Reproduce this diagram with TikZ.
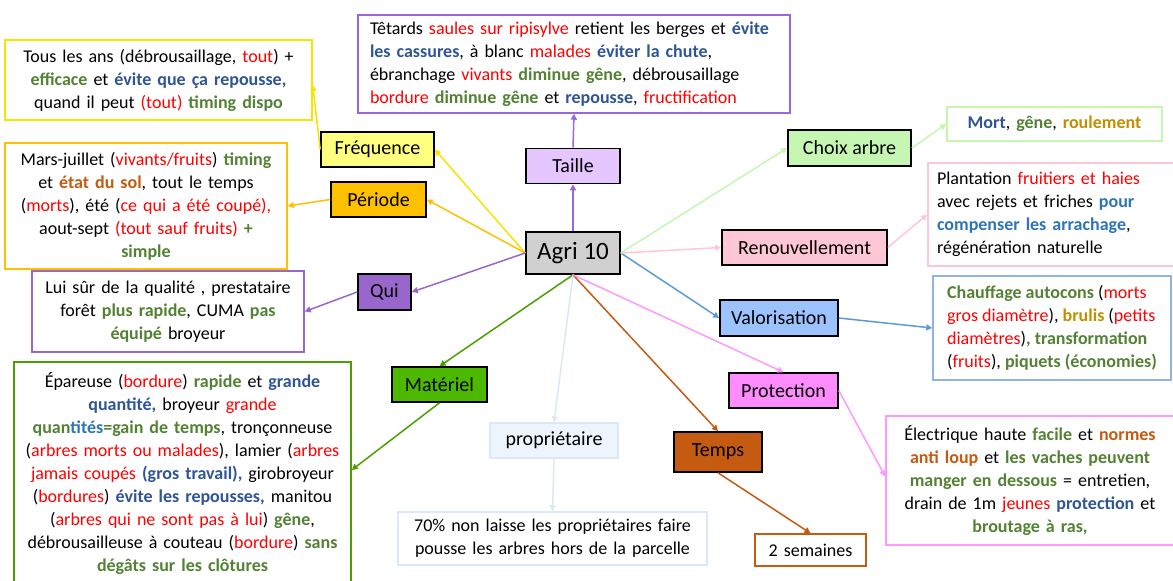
\documentclass[tikz,border=0pt]{standalone}
\usepackage{fontspec}
\setmainfont{Carlito}
\usetikzlibrary{arrows.meta}

% text colours
\definecolor{tred}{HTML}{FF0000}
\definecolor{tgreen}{HTML}{548235}
\definecolor{tblue}{HTML}{2F5597}
\definecolor{tblueb}{HTML}{2E75B6}
\definecolor{torange}{HTML}{C55A11}
\definecolor{tgold}{HTML}{BF9000}
% box and line colours
\definecolor{cagri}{HTML}{D0D0D0}
\definecolor{cfreq}{HTML}{FFFF80}
\definecolor{lfreq}{HTML}{F5E400}
\definecolor{cper}{HTML}{FFC000}
\definecolor{ctaille}{HTML}{E5C6FF}
\definecolor{ltaille}{HTML}{9966DD}
\definecolor{cqui}{HTML}{9966CC}
\definecolor{cmat}{HTML}{4CB800}
\definecolor{lmat}{HTML}{4C9F00}
\definecolor{cprop}{HTML}{EEF4FB}
\definecolor{lprop}{HTML}{DAE8F8}
\definecolor{ctemps}{HTML}{C55A11}
\definecolor{cprot}{HTML}{FF8CFF}
\definecolor{lprot}{HTML}{FF99FF}
\definecolor{cvalo}{HTML}{9DC3FF}
\definecolor{lvalo}{HTML}{5B9BD5}
\definecolor{dvalo}{HTML}{8EB4E3}
\definecolor{crenouv}{HTML}{FFC7D6}
\definecolor{cchoix}{HTML}{C6F7B2}

\newcommand{\txtR}[1]{\textcolor{tred}{#1}}
\newcommand{\txtG}[1]{\textbf{\textcolor{tgreen}{#1}}}
\newcommand{\txtB}[1]{\textbf{\textcolor{tblue}{#1}}}
\newcommand{\txtL}[1]{\textbf{\textcolor{tblueb}{#1}}}
\newcommand{\txtO}[1]{\textbf{\textcolor{torange}{#1}}}
\newcommand{\txtY}[1]{\textbf{\textcolor{tgold}{#1}}}

\tikzset{
  theme/.style={draw=black, line width=1.6pt, inner sep=0pt, font=\fontsize{20}{24}\selectfont},
  detail/.style={draw, fill=white, line width=1.5pt, inner ysep=0pt, inner xsep=3pt, align=center, font=\fontsize{18}{23}\selectfont},
  arr/.style={line width=1.5pt, -{Triangle[length=6pt,width=6pt]}}
}

\begin{document}
\begin{tikzpicture}[x=1pt, y=-1pt]
\clip (0,0) rectangle (1173,581);

% Centre
\node[theme, fill=cagri, minimum width=94pt, minimum height=42pt, font=\fontsize{25}{30}\selectfont] (agri) at (573,253) {Agri 10};

% Themes
\node[theme, fill=ctaille, minimum width=94pt, minimum height=35pt] (taille) at (573,166) {Taille};
\node[theme, fill=cfreq, minimum width=113pt, minimum height=35pt] (freq) at (377.5,149.5) {Fréquence};
\node[theme, fill=cper, minimum width=95pt, minimum height=35pt] (periode) at (378.5,199.5) {Période};
\node[theme, fill=cqui, minimum width=53pt, minimum height=36pt] (qui) at (384.5,292) {Qui};
\node[theme, fill=cmat, minimum width=95pt, minimum height=35pt] (materiel) at (439.5,384.5) {Matériel};
\node[theme, draw=lprop, line width=1.5pt, fill=cprop, minimum width=128pt, minimum height=35pt] (proprio) at (554,440.5) {propriétaire};
\node[theme, fill=ctemps, minimum width=88pt, minimum height=40pt] (temps) at (718,452) {Temps};
\node[theme, fill=cprot, minimum width=109pt, minimum height=35pt] (protection) at (783.5,390.5) {Protection};
\node[theme, fill=cvalo, minimum width=118pt, minimum height=36pt] (valo) at (779,318) {Valorisation};
\node[theme, fill=crenouv, minimum width=165pt, minimum height=35pt] (renouv) at (804.5,247.5) {Renouvellement};
\node[theme, fill=cchoix, minimum width=123pt, minimum height=36pt] (choix) at (849.5,148) {Choix arbre};

% Details
\node[detail, draw=ltaille, align=left, inner xsep=12pt, text width=408pt, minimum height=98pt] (dtaille) at (574,64)
  {Têtards \txtR{saules sur ripisylve} retient les berges et \txtB{évite}\\
   \txtB{les cassures}, à blanc \txtR{malades} \txtB{éviter la chute},\\
   ébranchage \txtR{vivants} \txtG{diminue gêne}, débrousaillage\\
   \txtR{bordure} \txtG{diminue gêne} et \txtB{repousse}, \txtR{fructification}};
\node[detail, draw=lfreq, text width=301pt, minimum height=80pt] (dfreq) at (158.5,80)
  {Tous les ans (débrousaillage, \txtR{tout}) +\\
   \txtG{efficace} et \txtB{évite que ça repousse,}\\
   quand il peut \txtR{(tout)} \txtG{timing dispo}};
\node[detail, draw=cper, text width=276pt, minimum height=126pt] (dperiode) at (146,206)
  {Mars-juillet (\txtR{vivants/fruits}) \txtG{timing}\\
   et \txtO{état du sol}, tout le temps\\
   (\txtR{morts}), été (\txtR{ce qui a été coupé),}\\
   aout-sept \txtR{(tout sauf fruits)} \txtG{+}\\
   \txtG{simple}};
\node[detail, draw=cqui, text width=266pt, minimum height=81pt] (dqui) at (168,311.5)
  {Lui sûr de la qualité , prestataire\\
   forêt \txtG{plus rapide}, CUMA \txtG{pas}\\
   \txtG{équipé} broyeur};
\node[detail, draw=lmat, text width=331pt, minimum height=224pt] (dmat) at (182.5,474)
  {Épareuse (\txtR{bordure}) \txtG{rapide} et \txtB{grande}\\
   \txtB{quantité,} broyeur \txtR{grande}\\
   \txtG{quan}\txtL{tités}\txtG{=gain de temps}, tronçonneuse\\
   (\txtR{arbres morts ou malades}), lamier (\txtR{arbres}\\
   \txtR{jamais coupés} \txtB{(gros travail),} girobroyeur\\
   (\txtR{bordures}) \txtB{évite les repousses,} manitou\\
   (\txtR{arbres qui ne sont pas à lui}) \txtG{gêne},\\
   débrousailleuse à couteau (\txtR{bordure}) \txtG{sans}\\
   \txtG{dégâts sur les clôtures}};
\node[detail, draw=lprop, text width=303pt, minimum height=53pt] (dproprio) at (552.5,538.5)
  {70\% non laisse les propriétaires faire\\
   pousse les arbres hors de la parcelle};
\node[detail, draw=ctemps, text width=105pt, minimum height=32pt] (dtemps) at (810.5,550) {2 semaines};
\node[detail, draw=cchoix, text width=209pt, minimum height=34pt] (dchoix) at (1054.5,124)
  {\txtB{Mort}, \txtG{gêne}, \txtY{roulement}};
\node[detail, draw=crenouv, align=left, inner xsep=9pt, text width=230pt, minimum height=103pt] (drenouv) at (1052,214.5)
  {Plantation \txtR{fruitiers et haies}\\
   avec rejets et friches \txtL{pour}\\
   \txtL{compenser les arrachage},\\
   régénération naturelle};
\node[detail, draw=dvalo, align=left, minimum width=238pt, minimum height=104pt] (dvalorisation) at (1052,328)
  {\txtG{Chauffage autocons} (\txtR{morts}\\
   \txtR{gros diamètre}), \txtY{brulis} (\txtR{petits}\\
   \txtR{diamètres})\txtG{, transformation}\\
   (\txtR{fruits}), \txtG{piquets (économies)}};
\node[detail, draw=lprot, text width=282pt, minimum height=129pt] (dprot) at (1030,480.5)
  {Électrique haute \txtG{facile} et \txtO{normes}\\
   \txtO{anti loup} et \txtG{les vaches peuvent}\\
   \txtG{manger en dessous} = entretien,\\
   drain de 1m \txtR{jeunes} \txtB{protection} et\\
   \txtG{broutage à ras,}};

% Connectors
\draw[arr, ltaille] (agri.north) -- (taille.south);
\draw[arr, ltaille] (taille.north) -- (dtaille.south);
\draw[arr, lfreq] (agri.west) -- (freq.east);
\draw[arr, lfreq] (freq.west) -- ([yshift=-5pt]dfreq.east);
\draw[arr, cper] (agri.west) -- (periode.east);
\draw[arr, cper] (periode.west) -- (dperiode.east);
\draw[arr, cqui] (agri.west) -- (qui.east);
\draw[arr, cqui] (qui.west) -- (dqui.east);
\draw[arr, lmat] (agri.south) -- (materiel.north);
\draw[arr, lmat] (materiel.south) -- ([yshift=4pt]dmat.east);
\draw[arr, lprop] (agri.south) -- (proprio.north);
\draw[arr, lprop] (proprio.south) -- (dproprio.north);
\draw[arr, ctemps] (agri.south) -- (temps.north);
\draw[arr, ctemps] (temps.south) -- (dtemps.north);
\draw[arr, lprot] (agri.south) -- (protection.north);
\draw[arr, lprot] (protection.east) -- ([yshift=4pt]dprot.west);
\draw[arr, lvalo] (agri.east) -- (valo.west);
\draw[arr, lvalo] (valo.east) -- (dvalorisation.west);
\draw[arr, crenouv] (agri.east) -- (renouv.west);
\draw[arr, crenouv] (renouv.east) -- (drenouv.west);
\draw[arr, cchoix] (agri.east) -- (choix.west);
\draw[arr, cchoix] (choix.east) -- (dchoix.west);
\end{tikzpicture}
\end{document}
